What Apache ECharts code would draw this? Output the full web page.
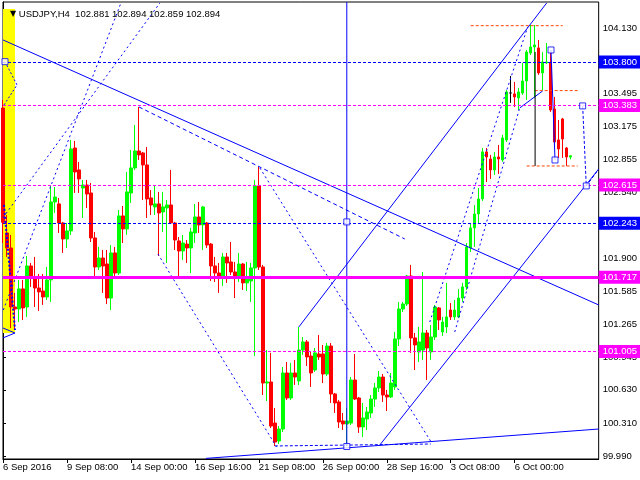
<!DOCTYPE html>
<html><head><meta charset="utf-8">
<script src="https://cdn.jsdelivr.net/npm/echarts@6/dist/echarts.min.js"></script>
<style>html,body{margin:0;padding:0;background:#fff}#c{width:640px;height:480px}</style>
</head><body><div id="c"></div>
<script>
const symbolName = 'USDJPY,H4';
const quote = [102.881, 102.894, 102.859, 102.894];
const timeLabels = ['6 Sep 2016','9 Sep 08:00','14 Sep 00:00','16 Sep 16:00','21 Sep 08:00','26 Sep 00:00','28 Sep 16:00','3 Oct 08:00','6 Oct 00:00'];
const priceTicks = [99.990,100.310,100.630,100.945,101.265,101.585,101.900,102.220,102.540,102.855,103.175,103.495,103.815,104.130];

const opens = [103.356,102.147,102.002,101.431,101.412,101.606,101.431,101.828,101.722,101.615,
101.586,101.528,101.693,102.447,102.428,102.244,102.089,102.167,102.969,102.757,
102.582,102.611,102.534,102.099,101.818,101.905,101.847,101.518,101.954,101.760,
102.312,102.186,102.534,102.776,102.940,102.921,102.805,102.486,102.399,102.428,
102.350,102.389,102.418,102.244,102.070,101.973,102.040,102.002,102.147,102.302,
102.225,102.244,102.040,101.828,101.760,101.731,101.915,101.867,101.770,101.722,
101.847,101.664,101.683,101.809,102.602,101.818,100.696,100.706,100.309,100.135,
100.251,100.793,100.551,100.793,100.716,101.015,101.093,100.957,100.822,100.977,
100.977,100.783,101.054,100.590,100.513,100.329,100.300,100.309,100.725,100.551,
100.271,100.348,100.406,100.541,100.648,100.754,100.580,100.561,100.658,101.122,
101.412,101.460,101.731,101.132,100.996,101.015,101.180,100.996,101.141,101.422,
101.190,101.238,101.402,101.335,101.335,101.518,101.625,102.002,102.196,102.331,
102.476,102.931,102.863,102.757,102.882,102.853,103.047,103.501,103.492,103.453,
103.501,103.617,103.888,103.946,103.937,103.695,103.792,103.792,103.347,103.047,
103.250,102.969,102.881];
const highs = [103.434,102.321,102.128,101.567,101.693,101.693,101.925,101.857,101.915,101.751,
101.751,101.818,102.611,102.592,102.486,102.254,102.244,103.047,103.037,102.834,
102.660,102.660,102.631,102.157,102.012,101.983,101.983,102.031,102.012,102.370,
102.408,102.737,102.950,103.192,103.366,102.931,102.979,102.563,102.611,102.544,
102.544,102.466,102.757,102.254,102.108,102.128,102.079,102.196,102.428,102.447,
102.408,102.254,102.050,101.915,101.857,101.954,101.954,102.060,101.867,101.954,
101.857,101.867,101.857,102.660,102.786,101.838,101.015,100.987,100.454,100.280,
100.851,100.899,100.890,100.919,101.238,101.141,101.112,100.996,101.035,101.161,
101.064,101.083,101.083,100.600,100.532,100.406,100.454,100.754,100.977,100.561,
100.503,100.464,100.580,100.696,100.812,100.783,100.629,100.793,101.190,101.480,
101.480,101.741,101.838,101.180,101.238,101.770,101.209,101.257,101.451,101.431,
101.335,101.664,101.470,101.499,101.606,101.664,102.050,102.244,102.418,102.582,
102.969,102.969,102.902,102.931,102.998,103.095,103.530,103.666,103.608,103.550,
103.792,103.917,104.159,104.159,104.014,103.898,103.985,103.898,103.463,103.240,
103.260,102.979,102.894];
const lows = [102.050,101.915,101.228,101.209,101.286,101.306,101.335,101.625,101.431,101.393,
101.451,101.499,101.480,102.341,102.147,101.954,102.002,102.128,102.534,102.534,
102.292,102.389,102.060,101.722,101.789,101.567,101.460,101.402,101.712,101.741,
102.050,102.128,102.437,102.757,102.853,102.466,102.292,102.321,102.321,101.925,
102.157,101.857,102.234,101.983,101.722,101.886,101.857,101.760,102.050,102.147,
101.983,102.002,101.683,101.673,101.567,101.635,101.664,101.741,101.518,101.673,
101.596,101.586,101.480,100.957,101.789,100.580,100.522,100.261,100.087,100.106,
100.222,100.532,100.532,100.677,100.677,100.967,100.861,100.658,100.803,100.919,
100.696,100.764,100.503,100.406,100.261,100.242,100.087,100.290,100.532,100.213,
100.174,100.242,100.358,100.464,100.609,100.513,100.425,100.551,100.629,101.054,
101.383,101.441,100.987,100.822,100.899,100.919,100.725,100.919,101.112,101.209,
101.151,101.180,101.306,101.306,101.325,101.480,101.596,101.963,102.012,102.244,
102.457,102.640,102.670,102.708,102.718,102.834,103.027,103.405,103.366,103.337,
103.482,103.434,103.869,103.453,103.676,103.530,103.782,103.318,102.979,102.873,
102.873,102.795,102.859];
const closes = [102.250,102.002,101.431,101.412,101.606,101.422,101.828,101.712,101.615,101.577,
101.528,101.693,102.447,102.495,102.244,102.089,102.167,102.960,102.737,102.670,
102.611,102.524,102.099,101.818,101.905,101.828,101.518,101.954,101.760,102.312,
102.186,102.544,102.776,102.940,102.902,102.805,102.476,102.418,102.428,102.341,
102.399,102.418,102.244,102.079,101.973,102.050,102.002,102.157,102.302,102.225,
102.399,102.031,101.828,101.760,101.722,101.915,101.857,101.770,101.722,101.847,
101.664,101.722,101.809,102.602,101.818,100.696,100.706,100.280,100.125,100.251,
100.793,100.551,100.793,100.754,101.015,101.093,100.948,100.793,100.987,100.948,
100.783,101.054,100.590,100.503,100.319,100.300,100.329,100.725,100.541,100.271,
100.358,100.416,100.541,100.648,100.754,100.580,100.561,100.696,101.122,101.412,
101.460,101.731,101.132,101.064,101.093,101.180,101.035,101.141,101.431,101.306,
101.286,101.335,101.335,101.402,101.518,101.625,102.012,102.196,102.331,102.476,
102.931,102.882,102.757,102.882,102.863,103.066,103.511,103.501,103.463,103.511,
103.617,103.898,103.946,103.966,103.695,103.801,103.801,103.337,103.027,102.960,
103.056,102.882,102.894];

const blueLevels = [103.800, 102.243];
const magentaLevels = [103.383, 102.615, 101.005];
const supportLevel = [101.717];
const lastPrice = [102.894];

const yellowBox = [[0, 101.18], [3, 104.314]];
const trendDown = [[0, 104.014], [149, 101.451]];
const fanA = [[0, 102.295], [39.25, 104.372]];
const fanB = [[0.075, 101.402], [29.5, 104.372]];
const legTop = [[34, 103.366], [100.5, 102.089]];
const legDown1 = [[38.75, 101.944], [68.4, 100.08]];
const legDown2 = [[64.25, 102.776], [107.25, 100.116]];
const baseDash = [[68, 100.087], [107, 100.106]];
const supportLine = [[50.75, 99.967], [149, 100.251]];
const markerVertical = [[86, 104.38], [86, 100.087]];
const channelUpper = [[74, 101.238], [136, 104.372]];
const channelLower = [[94.25, 100.096], [149, 102.766]];
const rallyLeft = [[106.75, 101.286], [131.25, 104.140]];
const rallyRight = [[113, 101.190], [129.25, 103.356]];
const rallyLink = [[129.25, 103.356], [135, 103.521]];
const orangeTop = [[117, 104.152], [140, 104.152]];
const orangeMid = [[133, 103.524], [144.25, 103.524]];
const orangeLow = [[131, 102.795], [143.75, 102.795]];
const blackRange = [[133.1, 103.898], [133.1, 102.795]];
const dropLink = [[137.08, 103.917], [138.08, 102.853]];
const projection = [[145, 103.376], [145.9, 102.602], [148.5, 102.737]];
const leftWedge = [[0.5, 103.804], [3.5, 103.579], [0.25, 103.385]];
const leftFoot = [[0, 101.228], [3, 101.180], [0, 101.132]];
const leftDrop = [[0.25, 102.418], [3, 101.209]];
const squares = [[137.08, 103.917], [138.08, 102.853], [86, 102.254], [86, 100.082], [145, 103.376], [145.9, 102.602], [0.5, 103.804]];

const SLOTS = 150, PER = 16;
const FONT = 'Liberation Sans';
const cats = [];
for (let i = 0; i < SLOTS; i++) {
  cats.push(i % PER === 0 && timeLabels[i / PER] ? timeLabels[i / PER] : String(i));
}
const showIdx = (i) => i % PER === 0 && i / PER < timeLabels.length;
const candleData = opens.map((o, i) => [o, closes[i], lows[i], highs[i]]);

function seg(data, color, width, type, z) {
  return {type: 'line', xAxisIndex: 1, yAxisIndex: 0, data: data, symbol: 'none', silent: true,
    animation: false, z: z || 4, lineStyle: {color: color, width: width, type: type}};
}
function lvl(v, color, width, type, bg) {
  return {yAxis: v, lineStyle: {color: color, width: width, type: type, opacity: width ? 1 : 0},
    label: {show: true, position: 'end', distance: 0, formatter: v.toFixed(3), color: '#fff',
      backgroundColor: bg, padding: [2, 5, 1, 4], fontSize: 9.5, fontFamily: FONT}};
}
const levelData = [];
blueLevels.forEach(v => levelData.push(lvl(v, '#0000ff', 1, [3, 2], '#0000ff')));
magentaLevels.forEach(v => levelData.push(lvl(v, '#ff00ff', 1, [3, 2], '#ff00ff')));
supportLevel.forEach(v => levelData.push(lvl(v, '#ff00ff', 3, 'solid', '#ff00ff')));
lastPrice.forEach(v => levelData.push(lvl(v, '#000', 0, 'solid', '#000')));

const chart = echarts.init(document.getElementById('c'), null, {renderer: 'canvas'});
chart.setOption({
  animation: false,
  backgroundColor: '#fff',
  title: {left: 5, top: 4, text: '{t|▼} ' + symbolName + '  ' + quote.map(q => q.toFixed(3)).join(' '),
    textStyle: {fontSize: 9.5, fontFamily: FONT, color: '#000', fontWeight: 'normal',
      rich: {t: {fontSize: 8, color: '#000', fontFamily: 'DejaVu Sans'}}}},
  grid: {left: 3, right: 41, top: 2, bottom: 21, show: true, borderColor: '#000', borderWidth: 1, backgroundColor: '#fff'},
  xAxis: [{
    type: 'category', data: cats, boundaryGap: false,
    axisLine: {lineStyle: {color: '#000', width: 1}},
    axisTick: {show: true, interval: showIdx, length: 4, lineStyle: {color: '#000'}},
    axisLabel: {interval: showIdx, align: 'left', margin: 3, fontSize: 9.5, fontFamily: FONT, color: '#000'},
    splitLine: {show: false}
  }, {
    type: 'value', min: 0, max: SLOTS - 1, show: false, gridIndex: 0
  }],
  yAxis: {
    type: 'value', position: 'right', min: 99.961, max: 104.381, scale: true,
    splitLine: {show: false},
    axisLine: {show: true, lineStyle: {color: '#000'}},
    axisTick: {show: true, customValues: priceTicks, length: 3, lineStyle: {color: '#000'}},
    axisLabel: {customValues: priceTicks, formatter: v => v.toFixed(3), margin: 4, fontSize: 9.5, fontFamily: FONT, color: '#000'}
  },
  series: [
    {type: 'line', xAxisIndex: 1, data: yellowBox, symbol: 'none', lineStyle: {opacity: 0}, silent: true, z: 1,
      markArea: {silent: true, itemStyle: {color: '#ffff00'},
        data: [[{coord: yellowBox[0]}, {coord: yellowBox[1]}]]}},
    {type: 'candlestick', xAxisIndex: 0, yAxisIndex: 0, data: candleData, barWidth: 3, z: 3,
      itemStyle: {color: '#00ff00', color0: '#ff0000', borderColor: '#00ff00', borderColor0: '#ff0000',
        borderColorDoji: '#000000', borderWidth: 1},
      markLine: {symbol: 'none', silent: true, animation: false, data: levelData}},
    seg(trendDown, '#0000ff', 1, 'solid'),
    seg(fanA, '#0000ff', 1, [2, 3]),
    seg(fanB, '#0000ff', 1, [2, 3]),
    seg(legTop, '#0000ff', 1, [4, 3]),
    seg(legDown1, '#0000ff', 1, [2, 3]),
    seg(legDown2, '#0000ff', 1, [2, 3]),
    seg(baseDash, '#0000ff', 1, [3, 2]),
    seg(supportLine, '#0000ff', 1, 'solid'),
    seg(markerVertical, '#0000ff', 1, 'solid'),
    seg(channelUpper, '#0000ff', 1, 'solid'),
    seg(channelLower, '#0000ff', 1, 'solid'),
    seg(rallyLeft, '#0000ff', 1, [2, 3]),
    seg(rallyRight, '#0000ff', 1, [2, 3]),
    seg(rallyLink, '#0000ff', 1, 'solid'),
    seg(orangeTop, '#ff4500', 1, [3, 2]),
    seg(orangeMid, '#ff4500', 1, [3, 2]),
    seg(orangeLow, '#ff4500', 1, [3, 2]),
    seg(blackRange, '#000000', 1, 'solid'),
    seg(dropLink, '#0000ff', 1, 'solid'),
    seg(projection, '#0000ff', 1, [3, 2]),
    seg(leftWedge, '#0000ff', 1, [2, 2]),
    seg(leftFoot, '#0000ff', 1, 'solid'),
    seg(leftDrop, '#0000ff', 2, [2, 2]),
    {type: 'scatter', xAxisIndex: 1, yAxisIndex: 0, data: squares, symbol: 'rect', symbolSize: 6, silent: true, z: 5,
      itemStyle: {color: '#ffffff', borderColor: '#0000ff', borderWidth: 1}}
  ]
});
</script></body></html>
